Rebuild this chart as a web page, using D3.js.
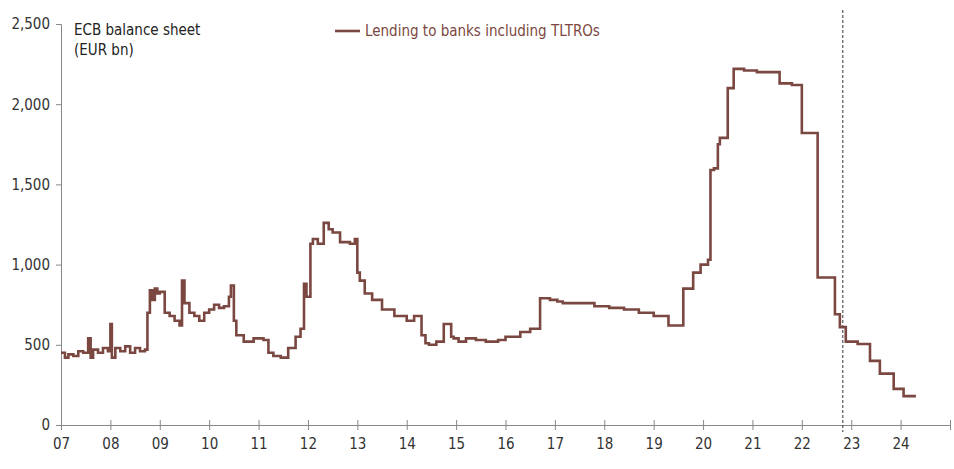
<!DOCTYPE html>
<html><head><meta charset="utf-8">
<script src="https://cdn.jsdelivr.net/npm/d3@7"></script>
<style>body{margin:0;background:#fff}text{font-family:"DejaVu Sans Condensed","DejaVu Sans",sans-serif;font-stretch:condensed}</style>
</head><body><svg id="c" width="954" height="469"></svg>
<script>
const years=[2007,2008,2009,2010,2011,2012,2013,2014,2015,2016,2017,2018,2019,2020,2021,2022,2023,2024,2025];
const tickLabels=["07","08","09","10","11","12","13","14","15","16","17","18","19","20","21","22","23","24",""];
const yTicks=[0,500,1000,1500,2000,2500];
const dates=[2007.0,2007.08,2007.15,2007.25,2007.35,2007.45,2007.55,2007.6,2007.65,2007.75,2007.85,2007.95,2008.0,2008.03,2008.1,2008.2,2008.3,2008.4,2008.5,2008.6,2008.7,2008.75,2008.8,2008.85,2008.9,2008.95,2009.0,2009.1,2009.2,2009.3,2009.4,2009.45,2009.5,2009.6,2009.7,2009.8,2009.9,2010.0,2010.1,2010.2,2010.3,2010.4,2010.44,2010.5,2010.55,2010.7,2010.9,2011.1,2011.2,2011.3,2011.45,2011.6,2011.75,2011.85,2011.92,2011.97,2012.05,2012.1,2012.2,2012.32,2012.42,2012.5,2012.65,2012.85,2012.95,2013.0,2013.05,2013.15,2013.3,2013.5,2013.75,2014.0,2014.15,2014.3,2014.38,2014.45,2014.6,2014.75,2014.9,2014.95,2015.05,2015.2,2015.4,2015.6,2015.85,2016.0,2016.3,2016.5,2016.7,2016.9,2017.05,2017.16,2017.5,2017.8,2018.1,2018.4,2018.7,2019.0,2019.3,2019.6,2019.8,2019.95,2020.1,2020.15,2020.22,2020.3,2020.34,2020.5,2020.62,2020.83,2021.09,2021.33,2021.55,2021.8,2022.0,2022.32,2022.67,2022.77,2022.89,2023.13,2023.38,2023.58,2023.86,2024.06,2024.31,2024.55,2024.79,2024.99];
const values=[450,420,440,430,460,450,540,420,470,450,480,460,630,420,480,460,490,450,480,460,470,700,840,780,850,820,830,700,680,650,620,900,760,700,680,650,700,720,750,730,740,800,870,650,560,520,540,530,450,430,420,480,550,600,880,800,1130,1160,1130,1260,1220,1200,1140,1130,1160,950,900,820,780,720,680,650,680,560,510,500,520,630,550,540,520,540,530,520,530,550,580,600,790,780,770,760,760,740,730,720,700,680,620,850,950,1000,1030,1590,1600,1750,1790,2100,2220,2210,2200,2200,2130,2120,1820,920,690,610,520,505,400,320,225,180,180];
const svg=d3.select("#c");
const x=d3.scaleLinear().domain([2007,2025]).range([61,950]);
const y=d3.scaleLinear().domain([0,2500]).range([425,24]);
const grey="#888";
svg.append("g").attr("transform","translate(0,425)").call(d3.axisBottom(x).tickValues(years).tickFormat((d,i)=>tickLabels[i]).tickSize(5).tickPadding(8))
 .call(g=>{g.select(".domain").attr("stroke",grey);g.selectAll("line").attr("stroke",grey).attr("y1",-5);g.selectAll("text").attr("font-size",15).attr("fill","#333");});
svg.append("g").attr("transform","translate(61,0)").call(d3.axisLeft(y).tickValues(yTicks).tickSize(5).tickPadding(6))
 .call(g=>{g.select(".domain").attr("stroke",grey);g.selectAll("line").attr("stroke",grey);g.selectAll("text").attr("font-size",15).attr("fill","#333");});
svg.append("line").attr("x1",x(2022.83)).attr("x2",x(2022.83)).attr("y1",10).attr("y2",432).attr("stroke","#333").attr("stroke-dasharray","3,2");
const line=d3.line().x((d,i)=>x(dates[i])).y(d=>y(d)).curve(d3.curveStepAfter);
svg.append("path").datum(values).attr("d",line).attr("fill","none").attr("stroke","#7b4741").attr("stroke-width",2.6);
svg.append("text").attr("x",74).attr("y",35).attr("font-size",15).attr("fill","#222").text("ECB balance sheet");
svg.append("text").attr("x",74).attr("y",55).attr("font-size",15).attr("fill","#222").text("(EUR bn)");
svg.append("line").attr("x1",335).attr("x2",360).attr("y1",31).attr("y2",31).attr("stroke","#7b4741").attr("stroke-width",2.6);
svg.append("text").attr("x",365).attr("y",36).attr("font-size",15).attr("fill","#7b4741").text("Lending to banks including TLTROs");
</script></body></html>
